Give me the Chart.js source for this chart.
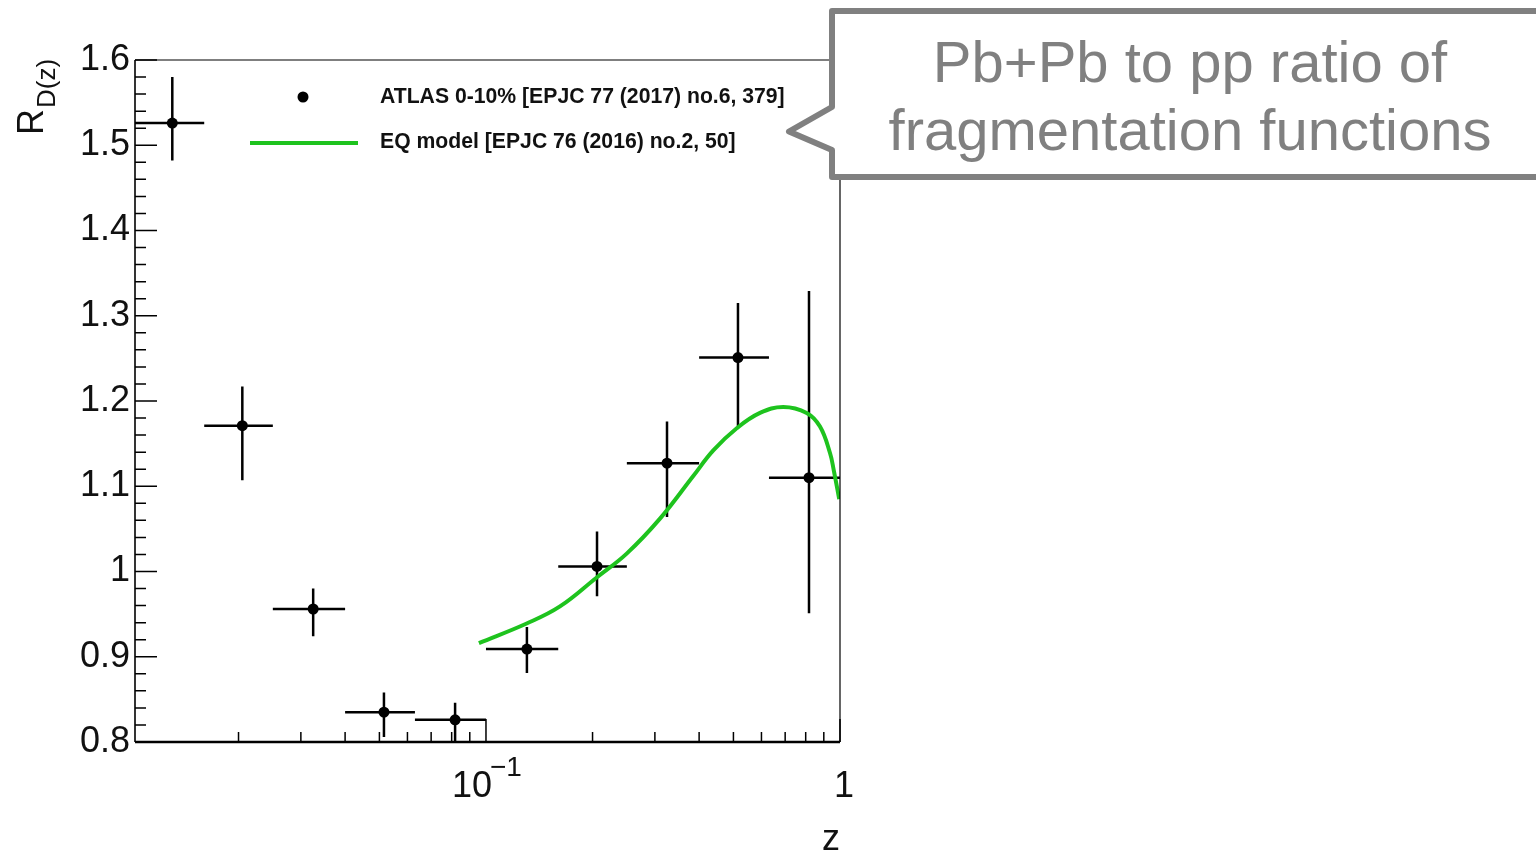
<!DOCTYPE html>
<html>
<head>
<meta charset="utf-8">
<script src="https://cdn.jsdelivr.net/npm/chart.js@4.4.1/dist/chart.umd.min.js"></script>
<style>
  html, body { margin: 0; padding: 0; background: #fff; }
</style>
</head>
<body>
<canvas id="myChart" width="1536" height="852"></canvas>
<script>
// ATLAS 0-10% points
let zCenters = [0.0130, 0.0205, 0.0325, 0.0515, 0.0818, 0.1305, 0.2059, 0.3246, 0.515, 0.8174];
let zLow = [0.0102, 0.016, 0.025, 0.04, 0.063, 0.1, 0.16, 0.25, 0.4, 0.63];
let zHigh = [0.016, 0.025, 0.04, 0.063, 0.1, 0.16, 0.25, 0.4, 0.63, 1.0];
let ratio = [1.526, 1.171, 0.956, 0.835, 0.826, 0.909, 1.006, 1.127, 1.251, 1.110];
let ratioLow = [1.482, 1.107, 0.924, 0.806, 0.799, 0.881, 0.971, 1.064, 1.170, 0.951];
let ratioHigh = [1.580, 1.217, 0.980, 0.858, 0.846, 0.935, 1.047, 1.176, 1.315, 1.329];

// EQ model curve
let modelZ = [0.0955, 0.1303, 0.1618, 0.2055, 0.2497, 0.3101, 0.3850, 0.4386, 0.5108, 0.5943, 0.6913, 0.8051, 0.878, 0.937, 0.96, 0.995];
let modelR = [0.916, 0.939, 0.959, 0.993, 1.021, 1.062, 1.112, 1.142, 1.168, 1.186, 1.193, 1.186, 1.170, 1.139, 1.119, 1.085];

// axis ticks
let xMinorTicks = [0.02, 0.03, 0.04, 0.05, 0.06, 0.07, 0.08, 0.09, 0.2, 0.3, 0.4, 0.5, 0.6, 0.7, 0.8, 0.9];
let xMajorTicks = [0.1, 1];

let green = '#1ec31e';
let grey = '#808080';

const rootStyle = {
    id: 'rootStyle',
    beforeDatasetsDraw(chart) {
        const { ctx, scales: { x, y } } = chart;
        ctx.save();
        ctx.strokeStyle = '#000';
        ctx.lineWidth = 2.5;
        for (let i = 0; i < ratio.length; i++) {
            const px = x.getPixelForValue(zCenters[i]);
            const py = y.getPixelForValue(ratio[i]);
            ctx.beginPath();
            ctx.moveTo(x.getPixelForValue(zLow[i]), py);
            ctx.lineTo(x.getPixelForValue(zHigh[i]), py);
            ctx.moveTo(px, y.getPixelForValue(ratioLow[i]));
            ctx.lineTo(px, y.getPixelForValue(ratioHigh[i]));
            ctx.stroke();
        }
        ctx.restore();
    },
    afterDraw(chart) {
        const { ctx, chartArea: a, scales: { x, y } } = chart;
        ctx.save();

        // frame
        ctx.strokeStyle = '#000';
        ctx.lineWidth = 1.2;
        ctx.beginPath();
        ctx.moveTo(a.left, a.top); ctx.lineTo(a.right, a.top); ctx.lineTo(a.right, a.bottom);
        ctx.stroke();
        ctx.lineWidth = 1.6;
        ctx.beginPath();
        ctx.moveTo(a.left, a.top); ctx.lineTo(a.left, a.bottom);
        ctx.stroke();
        ctx.lineWidth = 2.5;
        ctx.beginPath();
        ctx.moveTo(a.left, a.bottom); ctx.lineTo(a.right, a.bottom);
        ctx.stroke();

        // y ticks
        ctx.lineWidth = 1.5;
        ctx.beginPath();
        for (let k = 0; k <= 40; k++) {
            const py = y.getPixelForValue(0.8 + k * 0.02);
            const len = k % 5 === 0 ? 22 : 11;
            ctx.moveTo(a.left, py); ctx.lineTo(a.left + len, py);
        }
        // x ticks
        xMinorTicks.forEach(v => {
            const px = x.getPixelForValue(v);
            ctx.moveTo(px, a.bottom); ctx.lineTo(px, a.bottom - 10);
        });
        xMajorTicks.forEach(v => {
            const px = x.getPixelForValue(v);
            ctx.moveTo(px, a.bottom); ctx.lineTo(px, a.bottom - 23);
        });
        ctx.stroke();

        // x tick labels
        ctx.fillStyle = '#111';
        ctx.textBaseline = 'alphabetic';
        ctx.font = '36px "Liberation Sans"';
        const p01 = x.getPixelForValue(0.1);
        ctx.textAlign = 'left';
        ctx.fillText('10', p01 - 34, 797);
        ctx.font = '28px "Liberation Sans"';
        ctx.fillText('\u22121', p01 + 4, 776);
        ctx.font = '36px "Liberation Sans"';
        ctx.textAlign = 'center';
        ctx.fillText('1', x.getPixelForValue(1) + 4, 797);

        // axis titles
        ctx.textAlign = 'right';
        ctx.fillText('z', a.right, 850);
        ctx.save();
        ctx.translate(43, 135);
        ctx.rotate(-Math.PI / 2);
        ctx.textAlign = 'left';
        ctx.font = '36px "Liberation Sans"';
        ctx.fillText('R', 0, 0);
        const rw = ctx.measureText('R').width;
        ctx.font = '26px "Liberation Sans"';
        ctx.fillText('D(z)', rw + 1, 12);
        ctx.restore();

        // legend
        ctx.fillStyle = '#000';
        ctx.beginPath();
        ctx.arc(303, 97, 5.5, 0, Math.PI * 2);
        ctx.fill();
        ctx.strokeStyle = green;
        ctx.lineWidth = 4;
        ctx.beginPath();
        ctx.moveTo(250, 143); ctx.lineTo(358, 143);
        ctx.stroke();
        ctx.fillStyle = '#111';
        ctx.textAlign = 'left';
        ctx.font = 'bold 21.2px "Liberation Sans"';
        ctx.fillText('ATLAS 0-10% [EPJC 77 (2017) no.6, 379]', 380, 103);
        ctx.fillText('EQ model [EPJC 76 (2016) no.2, 50]', 380, 148);

        // callout
        ctx.beginPath();
        ctx.moveTo(832, 11);
        ctx.lineTo(1545, 11);
        ctx.lineTo(1545, 177);
        ctx.lineTo(832, 177);
        ctx.lineTo(832, 150);
        ctx.lineTo(789, 131.5);
        ctx.lineTo(832, 107);
        ctx.closePath();
        ctx.fillStyle = '#fff';
        ctx.fill();
        ctx.strokeStyle = grey;
        ctx.lineWidth = 6;
        ctx.lineJoin = 'round';
        ctx.stroke();
        ctx.fillStyle = grey;
        ctx.textAlign = 'center';
        ctx.font = '58px "Liberation Sans"';
        ctx.fillText('Pb+Pb to pp ratio of', 1190, 82);
        ctx.fillText('fragmentation functions', 1190, 149.5);

        ctx.restore();
    }
};

new Chart(document.getElementById('myChart'), {
    type: 'scatter',
    data: {
        datasets: [
            {
                type: 'line',
                label: 'EQ model [EPJC 76 (2016) no.2, 50]',
                data: modelZ.map((z, i) => ({ x: z, y: modelR[i] })),
                borderColor: green,
                borderWidth: 4,
                pointRadius: 0,
                fill: false,
                tension: 0.4
            },
            {
                label: 'ATLAS 0-10% [EPJC 77 (2017) no.6, 379]',
                data: zCenters.map((z, i) => ({ x: z, y: ratio[i] })),
                backgroundColor: '#000',
                borderWidth: 0,
                pointRadius: 5.5
            }
        ]
    },
    options: {
        responsive: false,
        animation: false,
        devicePixelRatio: 1,
        layout: { padding: { left: 0, top: 60, right: 696, bottom: 0 } },
        plugins: {
            legend: { display: false },
            tooltip: { enabled: false }
        },
        scales: {
            x: {
                type: 'logarithmic',
                min: 0.0102,
                max: 1,
                grid: { display: false, drawTicks: false },
                border: { display: false },
                ticks: { display: false },
                afterFit: s => { s.height = 110; }
            },
            y: {
                min: 0.8,
                max: 1.6,
                grid: { display: false, drawTicks: false },
                border: { display: false },
                ticks: {
                    stepSize: 0.1,
                    padding: 5,
                    color: '#111',
                    font: { family: 'Liberation Sans', size: 36 },
                    callback: v => String(Math.round(v * 10) / 10)
                },
                afterFit: s => { s.width = 135; }
            }
        }
    },
    plugins: [rootStyle]
});
</script>
</body>
</html>
